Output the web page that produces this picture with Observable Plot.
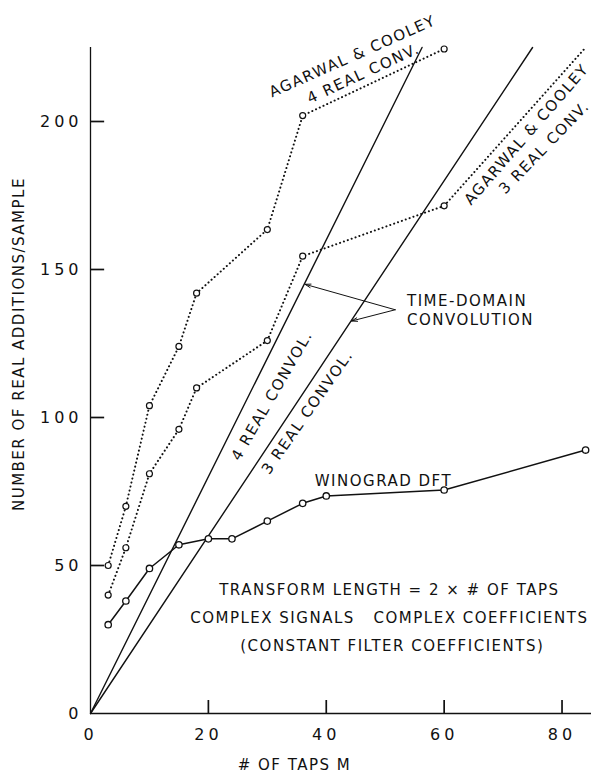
<!DOCTYPE html>
<html><head><meta charset="utf-8">
<script src="https://cdn.jsdelivr.net/npm/d3@7"></script>
<script src="https://cdn.jsdelivr.net/npm/@observablehq/plot@0.6"></script>
<style>
body{margin:0;background:#fff;}
#chart svg text{letter-spacing:1.5px;}
#chart svg g[aria-label$="tick label"] text{letter-spacing:4px;}
</style></head><body><div id="chart"></div>
<script>
// Winograd DFT
const winoX = [3, 6, 10, 15, 20, 24, 30, 36, 40, 60, 84];
const winoY = [30, 38, 49, 57, 59, 59, 65, 71, 73.5, 75.5, 89];
// Agarwal & Cooley, 4 real convolutions
const ac4X = [3, 6, 10, 15, 18, 30, 36, 60];
const ac4Y = [50, 70, 104, 124, 142, 163.5, 202, 224.5];
// Agarwal & Cooley, 3 real convolutions (plus unmarked continuation)
const ac3X = [3, 6, 10, 15, 18, 30, 36, 60];
const ac3Y = [40, 56, 81, 96, 110, 126, 154.5, 171.5];
const ac3TailX = [84];
const ac3TailY = [225];
// Time-domain convolution lines
const conv4X = [0, 56.25];
const conv4Y = [0, 225];
const conv3X = [0, 75];
const conv3Y = [0, 225];
// Arrows from "TIME-DOMAIN CONVOLUTION"
const arrowX1 = [51.7, 51.7];
const arrowY1 = [136.4, 136.4];
const arrowX2 = [36.4, 44.3];
const arrowY2 = [145, 132.6];
// Ticks
const xTicks = [0, 20, 40, 60, 80];
const yTicks = [0, 50, 100, 150, 200];
// Labels
const labelText = ["AGARWAL & COOLEY", "4 REAL CONV.", "AGARWAL & COOLEY", "3 REAL CONV.",
  "4 REAL CONVOL.", "3 REAL CONVOL.", "WINOGRAD DFT"];
const labelX = [44.45, 46.3, 74.0, 77.0, 30.8, 36.8, 49.7];
const labelY = [222, 216.2, 195.6, 191.2, 107.4, 101.8, 78.4];
const labelAngle = [-24, -25, -49, -46, -60, -55, 0];
const noteLines = ["TIME-DOMAIN", "CONVOLUTION"];
const noteX = [53.7, 53.7];
const noteY = [139.2, 132.8];
const boxLines = ["TRANSFORM LENGTH = 2 × # OF TAPS", "COMPLEX SIGNALS   COMPLEX COEFFICIENTS", "(CONSTANT FILTER COEFFICIENTS)"];
const boxX = [50.7, 50.7, 51.2];
const boxY = [41.5, 32.1, 22.6];

const pts = (xs, ys) => xs.map((x, i) => ({x, y: ys[i]}));
const ink = "#111";
// inward tick lengths expressed in data units (≈14px and ≈13px)
const yTickLen = 2.4;
const xTickLen = 4.4;
const yTickRows = yTicks.filter(d => d > 0).map(d => ({v: d, a: 0, b: yTickLen}));
const xTickRows = xTicks.filter(d => d > 0).map(d => ({v: d, a: 0, b: xTickLen}));

const plot = Plot.plot({
  width: 593, height: 780,
  marginLeft: 90, marginRight: 2, marginTop: 47, marginBottom: 67,
  x: {domain: [0, 85]},
  y: {domain: [0, 225]},
  style: {fontFamily: "DejaVu Sans", fontSize: "15px", color: ink, background: "#fff"},
  marks: [
    Plot.ruleX([0], {stroke: ink, strokeWidth: 1.3}),
    Plot.ruleY([0], {stroke: ink, strokeWidth: 1.3}),
    Plot.ruleY(yTickRows, {y: "v", x1: "a", x2: "b", stroke: ink, strokeWidth: 1.7}),
    Plot.ruleX(xTickRows, {x: "v", y1: "a", y2: "b", stroke: ink, strokeWidth: 1.7}),
    Plot.axisY({ticks: yTicks, tickSize: 0, tickPadding: 8, label: null, fontSize: 16}),
    Plot.axisX({ticks: xTicks, tickSize: 0, tickPadding: 15, label: null, fontSize: 16}),
    Plot.text(["# OF TAPS M"], {x: 34.6, y: 0, dy: 52, fontSize: 15}),
    Plot.text(["NUMBER OF REAL ADDITIONS/SAMPLE"], {frameAnchor: "left", y: 124.8, dx: -71, rotate: -90, textAnchor: "middle", fontSize: 15}),
    // time-domain convolution lines
    Plot.line(pts(conv4X, conv4Y), {x: "x", y: "y", stroke: ink, strokeWidth: 1.4}),
    Plot.line(pts(conv3X, conv3Y), {x: "x", y: "y", stroke: ink, strokeWidth: 1.4}),
    // Agarwal & Cooley dotted
    Plot.line(pts(ac4X, ac4Y), {x: "x", y: "y", stroke: ink, strokeWidth: 2, strokeDasharray: "0.1,4", strokeLinecap: "round"}),
    Plot.line(pts(ac3X.concat(ac3TailX), ac3Y.concat(ac3TailY)), {x: "x", y: "y", stroke: ink, strokeWidth: 2, strokeDasharray: "0.1,4", strokeLinecap: "round", clip: true}),
    // Winograd
    Plot.line(pts(winoX, winoY), {x: "x", y: "y", stroke: ink, strokeWidth: 1.5}),
    Plot.dot(pts(ac4X, ac4Y), {x: "x", y: "y", r: 3, fill: "white", stroke: ink, strokeWidth: 1.2}),
    Plot.dot(pts(ac3X, ac3Y), {x: "x", y: "y", r: 3, fill: "white", stroke: ink, strokeWidth: 1.2}),
    Plot.dot(pts(winoX, winoY), {x: "x", y: "y", r: 3.2, fill: "white", stroke: ink, strokeWidth: 1.3}),
    // arrows
    Plot.arrow(arrowX1.map((d, i) => i), {x1: i => arrowX1[i], y1: i => arrowY1[i], x2: i => arrowX2[i], y2: i => arrowY2[i], stroke: ink, strokeWidth: 1, headLength: 9, headAngle: 35}),
    // labels
    Plot.text(labelText.map((d, i) => i), {x: i => labelX[i], y: i => labelY[i], text: i => labelText[i], rotate: i => labelAngle[i], fontSize: 15}),
    Plot.text(noteLines.map((d, i) => i), {x: i => noteX[i], y: i => noteY[i], text: i => noteLines[i], textAnchor: "start", fontSize: 15}),
    Plot.text(boxLines.map((d, i) => i), {x: i => boxX[i], y: i => boxY[i], text: i => boxLines[i], fontSize: 15})
  ]
});
document.getElementById("chart").appendChild(plot);
</script></body></html>
